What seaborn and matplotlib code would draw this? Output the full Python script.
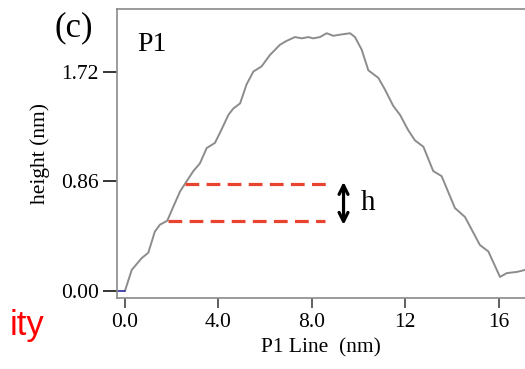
import matplotlib
matplotlib.use("Agg")
import matplotlib.pyplot as plt
import seaborn as sns
import pandas as pd

# profile data (nm)
x_nm = [0.0, 0.29, 0.71, 1.0, 1.28, 1.5, 1.81, 2.07, 2.36, 2.57, 2.93, 3.21, 3.5, 3.85,
        4.07, 4.43, 4.64, 4.93, 5.21, 5.5, 5.85, 6.21, 6.64, 6.92, 7.28, 7.57, 7.85,
        8.06, 8.35, 8.64, 8.92, 9.25, 9.64, 9.85, 10.14, 10.42, 10.85, 11.13, 11.49,
        11.78, 12.13, 12.42, 12.78, 13.2, 13.56, 14.13, 14.56, 15.2, 15.56, 16.06,
        16.35, 16.8, 17.13]
height = [0.0, 0.165, 0.256, 0.30, 0.465, 0.52, 0.55, 0.66, 0.78, 0.84, 0.94, 1.0, 1.12, 1.16,
          1.24, 1.38, 1.43, 1.47, 1.62, 1.72, 1.76, 1.85, 1.93, 1.96, 1.99, 1.98, 1.99,
          1.98, 1.99, 2.02, 2.0, 2.01, 2.02, 1.99, 1.89, 1.73, 1.67, 1.58, 1.45,
          1.38, 1.26, 1.18, 1.13, 0.94, 0.90, 0.65, 0.58, 0.36, 0.31, 0.11,
          0.14, 0.15, 0.165]
base_x = [-0.39, 0.0]
base_y = [0.0, 0.0]
h_levels = [0.84, 0.55]
h_starts = [2.57, 1.86]
h_ends = [8.64, 8.57]
xticks = [0, 4, 8, 12, 16]
xtick_labels = ["0.0", "4.0", "8.0", "12", "16"]
yticks = [0.0, 0.86, 1.72]
ytick_labels = ["0.00", "0.86", "1.72"]

sns.set_style("ticks")
plt.rcParams["font.family"] = ["Liberation Serif", "DejaVu Serif"]
plt.rcParams["text.color"] = "black"
plt.rcParams["axes.labelcolor"] = "black"
plt.rcParams["xtick.labelcolor"] = "black"
plt.rcParams["ytick.labelcolor"] = "black"

fig = plt.figure(figsize=(5.25, 3.69), dpi=100)
W, H = 525, 369
ax = fig.add_axes([117 / W, (H - 298) / H, (525 - 117) / W, (298 - 9) / H])

df = pd.DataFrame({"x": x_nm, "h": height})
sns.lineplot(data=df, x="x", y="h", ax=ax, color="#8c8c8c", linewidth=1.4, sort=False)
sns.lineplot(x=base_x, y=base_y, ax=ax, color="#2a2aa0", linewidth=1.2)

for lvl, s, e in zip(h_levels, h_starts, h_ends):
    ax.plot([s, e], [lvl, lvl], color="#e8432f", linewidth=2.3,
            linestyle=(0, (4.3, 2.3)), solid_capstyle="butt", dash_capstyle="butt")

ax.annotate("", xy=(9.36, 0.855), xytext=(9.36, 0.518),
            arrowprops=dict(arrowstyle="<->", lw=2.3, color="black",
                            shrinkA=0, shrinkB=0, mutation_scale=16))
ax.text(10.1, 0.69, "h", fontsize=21, va="center", ha="left")
ax.text(0.51, 1.93, "P1", fontsize=20, va="center", ha="left")

ax.set_xlim(-0.34, 17.13)
ax.set_ylim(-0.055, 2.21)
ax.set_xticks(xticks)
ax.set_xticklabels(xtick_labels)
ax.set_yticks(yticks)
ax.set_yticklabels(ytick_labels)
ax.tick_params(axis="y", length=10, width=1.1, color="black", pad=3, labelsize=15.5)
ax.tick_params(axis="x", length=7, width=1.1, color="#333333", pad=4, labelsize=15.5)
ax.set_xlabel("P1 Line  (nm)", fontsize=15.5, labelpad=4)
ax.set_ylabel("height (nm)", fontsize=15.5, labelpad=8)

for side in ["left", "top", "bottom"]:
    ax.spines[side].set_color("#8a8a8a")
    ax.spines[side].set_linewidth(1.2)
ax.spines["right"].set_visible(False)

fig.text(55 / W, 1 - 28 / H, "(c)", fontsize=25, ha="left", va="center")
fig.text(44 / W, 1 - 335 / H, "ity", fontsize=25, color="#ff0000", ha="right",
         va="baseline", family=["Liberation Sans", "DejaVu Sans"])

fig.savefig("out.png", dpi=100)
